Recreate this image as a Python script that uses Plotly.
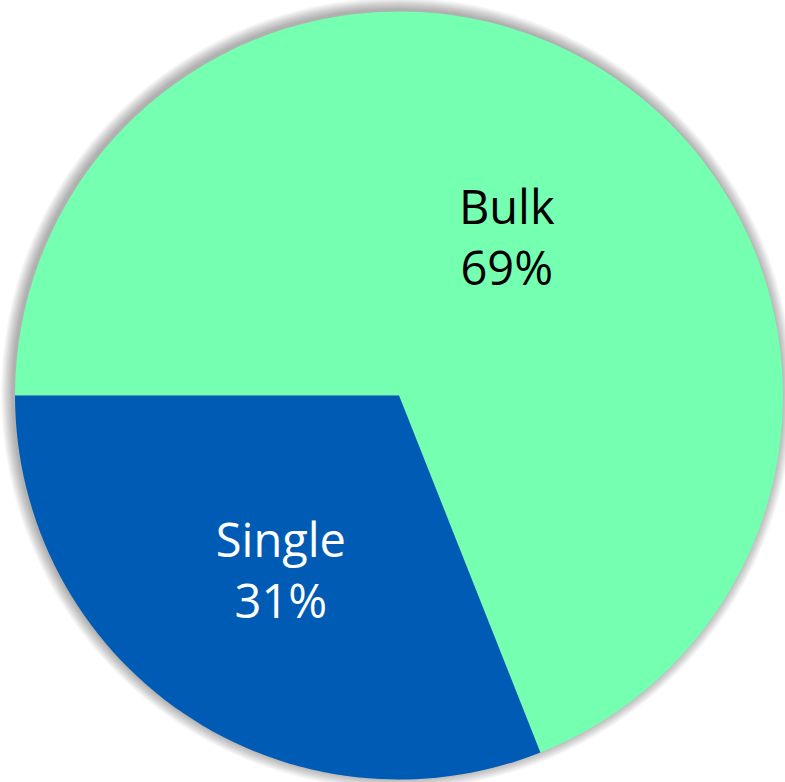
import plotly.graph_objects as go

labels = ["Bulk", "Single"]
values = [69, 31]
colors = ["#75FFB1", "#005BB5"]
text_colors = ["#000000", "#FFFFFF"]

W, H = 785, 782
cx, cy, r = 399, 395.5, 384

def dom(rad):
    return dict(x=[(cx - rad) / W, (cx + rad) / W],
                y=[(H - cy - rad) / H, (H - cy + rad) / H])

fig = go.Figure()
fig.add_trace(go.Pie(labels=labels, values=values, sort=False,
                     direction="clockwise", rotation=270,
                     marker=dict(colors=colors, line=dict(width=0)),
                     textinfo="label+percent", textposition="inside",
                     insidetextorientation="horizontal",
                     textfont=dict(family="Open Sans", size=47, color=text_colors),
                     showlegend=False, domain=dom(r)))

# soft shadow rings (decoration)
shapes = []
for i in range(12, 0, -1):
    rad = r + i * 1.0
    sx, sy = cx - 2, cy - 2
    shapes.append(dict(type="circle", xref="paper", yref="paper", layer="below",
                       x0=(sx - rad) / W, x1=(sx + rad) / W,
                       y0=(H - sy - rad) / H, y1=(H - sy + rad) / H,
                       fillcolor="rgba(0,0,0,0.028)", line=dict(width=0)))

fig.update_layout(width=W, height=H, margin=dict(l=0, r=0, t=0, b=0),
                  paper_bgcolor="white", plot_bgcolor="white", shapes=shapes)
fig.write_html("out.html")
